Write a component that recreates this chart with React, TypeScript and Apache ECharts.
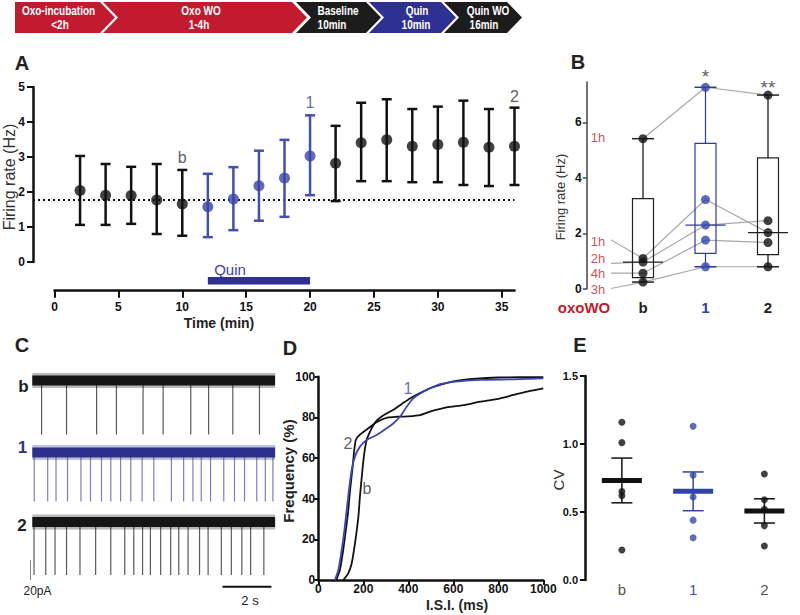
import React, { useEffect, useRef } from 'react';
import * as echarts from 'echarts';

const FONT = '"Liberation Sans", Arial, Helvetica, sans-serif';
const RED = '#c21a2e';
const NAVY = '#2e3192';
const BLUE = '#3a43a6';
const INK = '#111111';

// ---------------- Panel A : firing rate over time ----------------
const timeMin = [2, 4, 6, 8, 10, 12, 14, 16, 18, 20, 22, 24, 26, 28, 30, 32, 34, 36];
const rateMean = [2.04, 1.91, 1.9, 1.77, 1.66, 1.58, 1.8, 2.18, 2.4, 3.03, 2.82, 3.41, 3.49, 3.31, 3.36, 3.42, 3.28, 3.31];
const rateUpper = [3.03, 2.8, 2.72, 2.8, 2.63, 2.52, 2.71, 3.18, 3.49, 4.19, 3.89, 4.55, 4.65, 4.37, 4.44, 4.61, 4.37, 4.41];
const rateLower = [1.06, 1.06, 1.09, 0.8, 0.75, 0.71, 0.91, 1.18, 1.29, 1.91, 1.74, 2.31, 2.31, 2.28, 2.28, 2.2, 2.17, 2.2];
const baselineRate = 1.77;
const quinStart = 12;
const quinEnd = 20;
const timeTicks = [0, 5, 10, 15, 20, 25, 30, 35];
const pointTags = [
  { t: 10, y: 2.99, text: 'b' },
  { t: 20, y: 4.57, text: '1' },
  { t: 36, y: 4.74, text: '2' },
];

// ---------------- Panel B : per-cell firing rate ----------------
const groups = ['b', '1', '2'];
const oxoWO = ['1h', '1h', '2h', '4h', '3h'];
const rateB = [5.41, 1.1, 0.97, 0.57, 0.25];
const rate1 = [7.26, 3.22, 2.3, 1.76, 0.8];
const rate2 = [6.98, 2.03, 2.46, 1.67, 0.8];
const oxoLabelY = [5.47, 1.71, 1.08, 0.57, -0.02];
const oxoLeadY = [null, 1.79, 0.92, 0.57, 0.01];
const stars = ['', '*', '**'];
const starY = [0, 7.63, 7.27];
const rateTicksB = [0, 2, 4, 6];

// ---------------- Panel C : example traces ----------------
const traceSeconds = 9.93;
const spikesB = [0.38, 1.4, 2.63, 3.44, 4.53, 5.35, 6.48, 7.21, 8.2, 9.29];
const spikes1 = [0.08, 0.63, 0.97, 1.44, 1.99, 2.38, 2.83, 3.21, 3.61, 4.03, 4.49, 4.97, 5.69, 6.19, 6.57, 6.91, 7.29, 7.83, 8.27, 8.68, 9.18, 9.53, 9.84];
const spikes2 = [0.07, 0.55, 0.93, 1.4, 1.95, 2.59, 3.21, 3.78, 4.15, 4.51, 4.83, 5.25, 5.66, 5.99, 6.37, 6.84, 7.19, 7.73, 8.14, 8.57, 8.93, 9.47];
const spikeDepth = [-54, -49, -53];
const scalePA = 20;
const scaleSec = 2;

// ---------------- Panel D : ISI cumulative distributions ----------------
const isiB = [111, 133, 148, 163, 178, 185, 196, 204, 215, 230, 244, 260, 290, 330, 370, 407, 452, 496, 541, 600, 700, 800, 1000];
const cumB = [0, 3.3, 8, 18, 31, 41, 54, 62, 69, 73, 76, 78.5, 81, 83.5, 86.5, 89.3, 92, 94.3, 96, 97.7, 99, 99.6, 99.8];
const isi1 = [74, 89, 104, 116, 126, 136, 148, 163, 185, 215, 259, 304, 333, 363, 393, 422, 467, 511, 541, 600, 719, 867, 1000];
const cum1 = [0, 4.9, 14.8, 24.6, 34.4, 44, 54, 60.7, 65.6, 68.9, 71.3, 74.6, 77, 80.3, 85.2, 89.3, 92.6, 95, 96.4, 97.5, 98.4, 98.7, 99.2];
const isi2 = [80, 96, 111, 123, 133, 141, 151, 160, 167, 185, 215, 244, 274, 311, 350, 400, 452, 496, 570, 644, 719, 793, 867, 941, 1000];
const cum2 = [0, 5, 15, 25, 34, 44, 54, 64, 69, 71.5, 74, 76.5, 78.5, 80, 80.3, 80.5, 81.1, 82.8, 84.9, 86, 87.7, 89, 91, 93, 94.3];
const curveTags = [
  { x: 399, y: 94.4, text: '1', color: '#3c48b0' },
  { x: 132, y: 66.9, text: '2', color: '#333' },
  { x: 216, y: 45, text: 'b', color: '#333' },
];

// ---------------- Panel E : CV ----------------
const cvB = [1.16, 1.01, 0.65, 0.62, 0.22];
const cv1 = [1.13, 0.77, 0.61, 0.44, 0.31];
const cv2 = [0.78, 0.59, 0.52, 0.4, 0.25];

// ---------------- helpers ----------------
const sortAsc = (a: number[]) => [...a].sort((x, y) => x - y);
const median = (s: number[]) => {
  const n = s.length;
  return n % 2 ? s[(n - 1) / 2] : (s[n / 2 - 1] + s[n / 2]) / 2;
};
const boxStats = (vals: number[]) => {
  const s = sortAsc(vals);
  const n = s.length;
  const lower = s.slice(0, Math.floor(n / 2));
  const upper = s.slice(Math.ceil(n / 2));
  return [s[0], median(lower), median(s), median(upper), s[n - 1]];
};
const meanSem = (vals: number[]) => {
  const n = vals.length;
  const m = vals.reduce((a, b) => a + b, 0) / n;
  const v = vals.reduce((a, b) => a + (b - m) * (b - m), 0) / (n - 1);
  return [m, Math.sqrt(v) / Math.sqrt(n)];
};

const isQuin = (t: number) => t >= quinStart && t <= quinEnd;

export default function App() {
  const ref = useRef<HTMLDivElement>(null);

  useEffect(() => {
    if (!ref.current) return;
    const chart = echarts.init(ref.current, undefined, { renderer: 'svg' });

    const colsB = [rateB, rate1, rate2];
    const boxData = colsB.map((vals, i) => [i, ...boxStats(vals)]);
    const colsE = [cvB, cv1, cv2];
    const cvStats = colsE.map((vals, i) => [i, ...meanSem(vals)]);

    const tickLabel = { fontFamily: FONT, fontWeight: 'bold' as const, fontSize: 12, color: INK };
    const hidden = { show: false };

    const line = (x1: number, y1: number, x2: number, y2: number, stroke: string, lineWidth: number) => ({
      type: 'line',
      shape: { x1, y1, x2, y2 },
      style: { stroke, lineWidth },
    });

    const text = (x: number, y: number, t: string, opts: any = {}) => ({
      type: 'text',
      x,
      y,
      rotation: opts.rotation || 0,
      scaleX: opts.scaleX || 1,
      style: {
        text: t,
        fontFamily: FONT,
        fontSize: opts.fontSize || 14,
        fontWeight: opts.fontWeight || 'normal',
        fill: opts.fill || INK,
        align: 'center',
        verticalAlign: 'middle',
      },
    });

    // banner chevrons
    const T = 2, M = 17.5, Bt = 33, D = 15;
    const chevron = (x0: number, x1: number, notch: boolean, fill: string) => ({
      type: 'polygon',
      shape: {
        points: notch
          ? [[x0, T], [x1, T], [x1 + D, M], [x1, Bt], [x0, Bt], [x0 + D, M]]
          : [[x0, T], [x1, T], [x1 + D, M], [x1, Bt], [x0, Bt]],
      },
      style: { fill },
    });
    const bannerFont = { fontSize: 12.5, fontWeight: 'bold', fill: '#ffffff', scaleX: 0.8 };

    const graphics: any[] = [
      chevron(15, 100, false, RED),
      chevron(103, 292, true, RED),
      chevron(296, 366, true, '#1c1c1c'),
      chevron(369, 441, true, NAVY),
      chevron(444, 507, true, '#1c1c1c'),
      text(58.5, 10.5, 'Oxo-incubation', bannerFont),
      text(60, 25, '<2h', bannerFont),
      text(201, 10.5, 'Oxo WO', bannerFont),
      text(199, 25, '1-4h', bannerFont),
      text(338, 10.5, 'Baseline', bannerFont),
      text(332, 25, '10min', bannerFont),
      text(417, 10.5, 'Quin', bannerFont),
      text(416, 25, '10min', bannerFont),
      text(488, 10.5, 'Quin WO', bannerFont),
      text(484, 25, '16min', bannerFont),
      // panel letters
      text(22, 63, 'A', { fontSize: 20, fontWeight: 'bold', fill: '#222' }),
      text(578, 62, 'B', { fontSize: 20, fontWeight: 'bold', fill: '#222' }),
      text(22, 345, 'C', { fontSize: 20, fontWeight: 'bold', fill: '#222' }),
      text(290, 348, 'D', { fontSize: 20, fontWeight: 'bold', fill: '#222' }),
      text(580, 345, 'E', { fontSize: 20, fontWeight: 'bold', fill: '#222' }),
      // axis titles and annotations
      text(9, 177, 'Firing rate (Hz)', { fontSize: 16, rotation: Math.PI / 2, fill: '#333' }),
      text(219, 323, 'Time (min)', { fontSize: 14, fontWeight: 'bold', fill: '#222' }),
      text(230, 269, 'Quin', { fontSize: 15, fill: BLUE }),
      text(560, 197, 'Firing rate (Hz)', { fontSize: 13, rotation: Math.PI / 2, fill: '#333' }),
      text(584, 307, 'oxoWO', { fontSize: 15, fontWeight: 'bold', fill: RED }),
      text(23.5, 386, 'b', { fontSize: 17, fontWeight: 'bold', fill: '#222' }),
      text(22.5, 447, '1', { fontSize: 17, fontWeight: 'bold', fill: NAVY }),
      text(22, 525, '2', { fontSize: 17, fontWeight: 'bold', fill: '#222' }),
      text(37.5, 590.5, '20pA', { fontSize: 12, fill: '#222' }),
      text(250, 600, '2 s', { fontSize: 13, fill: '#222' }),
      text(288, 471, 'Frequency (%)', { fontSize: 15, fontWeight: 'bold', rotation: Math.PI / 2, fill: '#222' }),
      text(457, 605, 'I.S.I. (ms)', { fontSize: 14, fontWeight: 'bold', fill: '#222' }),
      text(558, 480, 'CV', { fontSize: 15, rotation: Math.PI / 2, fill: '#333' }),
    ];

    const traceColors = [
      { band: '#151515', spike: '#5a5a5a' },
      { band: '#2d2f8c', spike: '#7b7fc2' },
      { band: '#151515', spike: '#5a5a5a' },
    ];
    const spikeSets = [spikesB, spikes1, spikes2];

    const traceSeries: any[] = [];
    spikeSets.forEach((spikes, k) => {
      traceSeries.push({
        type: 'line', xAxisIndex: 3 + k, yAxisIndex: 2 + k,
        data: [[0, 0], [traceSeconds, 0]],
        symbol: 'none',
        lineStyle: { color: traceColors[k].band, width: 15, opacity: 0.3 },
        z: 2,
      });
      traceSeries.push({
        type: 'line', xAxisIndex: 3 + k, yAxisIndex: 2 + k,
        data: [[0, 0], [traceSeconds, 0]],
        symbol: 'none',
        lineStyle: { color: traceColors[k].band, width: 10 },
        z: 3,
      });
      traceSeries.push({
        type: 'custom', xAxisIndex: 3 + k, yAxisIndex: 2 + k,
        data: spikes.map((t) => [t, spikeDepth[k]]),
        renderItem: (params: any, api: any) => {
          const t = api.value(0);
          const p0 = api.coord([t, 0]);
          const p1 = api.coord([t, api.value(1)]);
          return line(p0[0], p0[1], p1[0], p1[1], traceColors[k].spike, 1.2);
        },
        z: 1,
      });
    });
    traceSeries.push({
      type: 'line', xAxisIndex: 5, yAxisIndex: 4, clip: false,
      data: [[-0.135, -38], [-0.135, -38 - scalePA]],
      symbol: 'none',
      lineStyle: { color: INK, width: 3 },
    });
    traceSeries.push({
      type: 'line', xAxisIndex: 5, yAxisIndex: 4, clip: false,
      data: [[7.78, -64.7], [7.78 + scaleSec, -64.7]],
      symbol: 'none',
      lineStyle: { color: INK, width: 2 },
    });

    const subjectLines = rateB.map((v, s) => {
      const pts: any[] = [];
      if (oxoLeadY[s] !== null) pts.push([-0.53, oxoLeadY[s]]);
      pts.push([0, v], [1, rate1[s]], [2, rate2[s]]);
      return {
        type: 'line', xAxisIndex: 2, yAxisIndex: 1,
        data: pts, clip: false, symbol: 'none',
        lineStyle: { color: '#a9a9a9', width: 1.2 },
        z: 1,
      };
    });

    const option: any = {
      animation: false,
      backgroundColor: '#ffffff',
      textStyle: { fontFamily: FONT },
      graphic: { elements: graphics },
      grid: [
        { left: 54.5, top: 87, width: 460, height: 175 },
        { left: 611.75, top: 82, width: 187.5, height: 207 },
        { left: 32.3, top: 368.5, width: 242.8, height: 82 },
        { left: 32.3, top: 440.5, width: 242.8, height: 82 },
        { left: 32.3, top: 510, width: 242.8, height: 82 },
        { left: 318.3, top: 376.7, width: 225, height: 203.3 },
        { left: 586.25, top: 376, width: 232.5, height: 204 },
        { left: 33, top: 87, width: 481.5, height: 175 },
      ],
      xAxis: [
        {
          gridIndex: 0, type: 'value', min: 0, max: 36, interval: 5, offset: 28.7,
          axisLine: { show: true, onZero: false, lineStyle: { color: INK, width: 2.5 } },
          axisTick: { show: true, length: 7, lineStyle: { width: 2, color: INK }, customValues: timeTicks },
          axisLabel: { ...tickLabel, margin: 10, customValues: timeTicks },
          splitLine: hidden,
        },
        {
          gridIndex: 1, type: 'category', data: groups, position: 'bottom',
          axisLine: { show: false, onZero: false }, axisTick: hidden,
          axisLabel: {
            margin: 10.5,
            formatter: (v: string, i: number) => `{c${i}|${v}}`,
            rich: {
              c0: { fontFamily: FONT, fontSize: 15, fontWeight: 'bold', color: '#222' },
              c1: { fontFamily: FONT, fontSize: 15, fontWeight: 'bold', color: '#2e3fa5' },
              c2: { fontFamily: FONT, fontSize: 15, fontWeight: 'bold', color: '#222' },
            },
          },
          splitLine: hidden,
        },
        { gridIndex: 1, type: 'value', min: -0.5, max: 2.5, show: false, position: 'top' },
        { gridIndex: 2, type: 'value', min: 0, max: traceSeconds, show: false },
        { gridIndex: 3, type: 'value', min: 0, max: traceSeconds, show: false },
        { gridIndex: 4, type: 'value', min: 0, max: traceSeconds, show: false },
        {
          gridIndex: 5, type: 'value', min: 0, max: 1000, interval: 200,
          axisLine: { show: true, onZero: false, lineStyle: { color: INK, width: 2.5 } },
          axisTick: { show: true, length: 5, lineStyle: { width: 2, color: INK } },
          axisLabel: { ...tickLabel, margin: 3, formatter: (v: number) => String(v) },
          splitLine: hidden,
        },
        {
          gridIndex: 6, type: 'category', data: groups, position: 'bottom',
          axisLine: { show: false, onZero: false }, axisTick: hidden,
          axisLabel: {
            margin: 2,
            formatter: (v: string, i: number) => `{c${i}|${v}}`,
            rich: {
              c0: { fontFamily: FONT, fontSize: 15, color: '#555' },
              c1: { fontFamily: FONT, fontSize: 15, color: '#4a4fa8' },
              c2: { fontFamily: FONT, fontSize: 15, color: '#555' },
            },
          },
          splitLine: hidden,
        },
        { gridIndex: 6, type: 'value', min: -0.5, max: 2.5, show: false, position: 'top' },
        { gridIndex: 7, type: 'value', min: -1.68, max: 36, show: false },
      ],
      yAxis: [
        {
          gridIndex: 0, type: 'value', min: 0, max: 5, interval: 1, offset: 21.5,
          axisLine: { show: true, onZero: false, lineStyle: { color: INK, width: 2.5 } },
          axisTick: { show: true, length: 6, lineStyle: { width: 2, color: INK } },
          axisLabel: { ...tickLabel, margin: 8 },
          splitLine: hidden,
        },
        {
          gridIndex: 1, type: 'value', min: 0, max: 7.45, offset: 25,
          axisLine: { show: true, onZero: false, lineStyle: { color: '#444', width: 1.5 } },
          axisTick: { show: true, length: 4, lineStyle: { width: 1.5, color: '#444' }, customValues: rateTicksB },
          axisLabel: { ...tickLabel, margin: 5, customValues: rateTicksB },
          splitLine: hidden,
        },
        { gridIndex: 2, type: 'value', min: -70, max: 12, show: false },
        { gridIndex: 3, type: 'value', min: -70, max: 12, show: false },
        { gridIndex: 4, type: 'value', min: -70, max: 12, show: false },
        {
          gridIndex: 5, type: 'value', min: 0, max: 100, interval: 20,
          axisLine: { show: true, onZero: false, lineStyle: { color: INK, width: 2.5 } },
          axisTick: { show: true, length: 4, lineStyle: { width: 2, color: INK } },
          axisLabel: { ...tickLabel, margin: 3 },
          splitLine: hidden,
        },
        {
          gridIndex: 6, type: 'value', min: 0, max: 1.5, interval: 0.5, offset: 1.25,
          axisLine: { show: true, onZero: false, lineStyle: { color: INK, width: 2.5 } },
          axisTick: { show: true, length: 5, lineStyle: { width: 2, color: INK } },
          axisLabel: { ...tickLabel, fontSize: 11, margin: 7, formatter: (v: number) => v.toFixed(1) },
          splitLine: hidden,
        },
        { gridIndex: 7, type: 'value', min: 0, max: 5, show: false },
      ],
      series: [
        // ---- A ----
        {
          type: 'line', xAxisIndex: 9, yAxisIndex: 7, symbol: 'none',
          data: [[-1.68, baselineRate], [36, baselineRate]],
          lineStyle: { color: INK, width: 2, type: [2, 3] },
          z: 1,
        },
        {
          type: 'line', xAxisIndex: 0, yAxisIndex: 0, clip: false, symbol: 'none',
          data: [[quinStart, -0.534], [quinEnd, -0.534]],
          lineStyle: { color: NAVY, width: 7.5, cap: 'butt' },
        },
        {
          type: 'custom', xAxisIndex: 0, yAxisIndex: 0,
          data: timeMin.map((t, i) => [t, rateLower[i], rateUpper[i]]),
          renderItem: (params: any, api: any) => {
            const t = api.value(0);
            const top = api.coord([t, api.value(2)]);
            const bot = api.coord([t, api.value(1)]);
            const c = isQuin(t) ? '#4450ad' : INK;
            return {
              type: 'group',
              children: [
                line(top[0], top[1], bot[0], bot[1], c, 2.5),
                line(top[0] - 5, top[1], top[0] + 5, top[1], c, 2.5),
                line(bot[0] - 5, bot[1], bot[0] + 5, bot[1], c, 2.5),
              ],
            };
          },
          z: 2,
        },
        {
          type: 'scatter', xAxisIndex: 0, yAxisIndex: 0, symbolSize: 11,
          data: timeMin.map((t, i) => ({ value: [t, rateMean[i]], itemStyle: { color: isQuin(t) ? BLUE : INK } })),
          z: 3,
        },
        {
          type: 'scatter', xAxisIndex: 0, yAxisIndex: 0, symbolSize: 0, clip: false,
          data: pointTags.map((p) => ({
            value: [p.t, p.y],
            label: {
              show: true, position: 'inside', formatter: p.text, fontFamily: FONT, fontSize: 16,
              color: p.text === '1' ? BLUE : '#333',
            },
          })),
        },
        // ---- B ----
        ...subjectLines,
        {
          type: 'custom', xAxisIndex: 2, yAxisIndex: 1,
          data: boxData,
          renderItem: (params: any, api: any) => {
            const i = api.value(0);
            const pMin = api.coord([i, api.value(1)]);
            const yQ1 = api.coord([i, api.value(2)])[1];
            const yMed = api.coord([i, api.value(3)])[1];
            const yQ3 = api.coord([i, api.value(4)])[1];
            const yMax = api.coord([i, api.value(5)])[1];
            const cx = pMin[0];
            const blue = i === 1;
            const stroke = blue ? '#2b3aa6' : '#222';
            const whisk = blue ? '#2b3aa6' : '#6a6a6a';
            const ww = blue ? 1.2 : 2;
            return {
              type: 'group',
              children: [
                line(cx, yQ3, cx, yMax, whisk, ww),
                line(cx, yQ1, cx, pMin[1], whisk, ww),
                line(cx - 11, yMax, cx + 11, yMax, stroke, 1.5),
                line(cx - 11, pMin[1], cx + 11, pMin[1], stroke, 1.5),
                {
                  type: 'rect',
                  shape: { x: cx - 10.5, y: yQ3, width: 21, height: yQ1 - yQ3 },
                  style: { fill: 'none', stroke, lineWidth: 1.2 },
                },
                line(cx - 20, yMed, cx + 20, yMed, stroke, 1.2),
              ],
            };
          },
          z: 2,
        },
        {
          type: 'scatter', xAxisIndex: 2, yAxisIndex: 1, symbolSize: 9,
          data: colsB.flatMap((vals, i) =>
            vals.map((v) => ({ value: [i, v], itemStyle: { color: i === 1 ? '#3345ad' : INK } })),
          ),
          z: 3,
        },
        {
          type: 'scatter', xAxisIndex: 2, yAxisIndex: 1, symbolSize: 0, clip: false,
          data: oxoWO.map((lab, s) => ({
            value: [-0.72, oxoLabelY[s]],
            label: {
              show: true, position: 'inside', formatter: lab, fontFamily: FONT, fontSize: 13,
              lineHeight: 12, color: RED,
            },
          })),
        },
        {
          type: 'scatter', xAxisIndex: 2, yAxisIndex: 1, symbolSize: 0, clip: false,
          data: stars.map((st, i) => ({
            value: [i, starY[i]],
            label: { show: st !== '', position: 'inside', formatter: st, fontFamily: FONT, fontSize: 19, color: '#333' },
          })),
        },
        // ---- C ----
        ...traceSeries,
        // ---- D ----
        {
          type: 'line', xAxisIndex: 6, yAxisIndex: 5, symbol: 'none', smooth: 0.2,
          data: isiB.map((x, i) => [x, cumB[i]]),
          lineStyle: { color: INK, width: 1.8 },
        },
        {
          type: 'line', xAxisIndex: 6, yAxisIndex: 5, symbol: 'none', smooth: 0.2,
          data: isi2.map((x, i) => [x, cum2[i]]),
          lineStyle: { color: INK, width: 1.8 },
        },
        {
          type: 'line', xAxisIndex: 6, yAxisIndex: 5, symbol: 'none', smooth: 0.2,
          data: isi1.map((x, i) => [x, cum1[i]]),
          lineStyle: { color: '#3c48b0', width: 1.8 },
        },
        {
          type: 'scatter', xAxisIndex: 6, yAxisIndex: 5, symbolSize: 0, clip: false,
          data: curveTags.map((c) => ({
            value: [c.x, c.y],
            label: { show: true, position: 'inside', formatter: c.text, fontFamily: FONT, fontSize: 16, color: c.color },
          })),
        },
        // ---- E ----
        {
          type: 'scatter', xAxisIndex: 8, yAxisIndex: 6, symbolSize: 7,
          data: colsE.flatMap((vals, i) =>
            vals.map((v) => ({ value: [i, v], itemStyle: { color: i === 1 ? '#3448a8' : INK } })),
          ),
          z: 3,
        },
        {
          type: 'custom', xAxisIndex: 8, yAxisIndex: 6,
          data: cvStats,
          renderItem: (params: any, api: any) => {
            const i = api.value(0);
            const m = api.value(1);
            const se = api.value(2);
            const p = api.coord([i, m]);
            const yt = api.coord([i, m + se])[1];
            const yb = api.coord([i, m - se])[1];
            const c = i === 1 ? '#2f45a5' : INK;
            return {
              type: 'group',
              children: [
                line(p[0], yt, p[0], yb, c, 1.5),
                line(p[0] - 10.5, yt, p[0] + 10.5, yt, c, 1.5),
                line(p[0] - 10.5, yb, p[0] + 10.5, yb, c, 1.5),
                line(p[0] - 20, p[1], p[0] + 20, p[1], c, 5),
              ],
            };
          },
          z: 4,
        },
      ],
    };

    chart.setOption(option);
    return () => chart.dispose();
  }, []);

  return (
    <div
      ref={ref}
      style={{ position: 'absolute', left: 0, top: 0, width: 800, height: 615, background: '#fff' }}
    />
  );
}
